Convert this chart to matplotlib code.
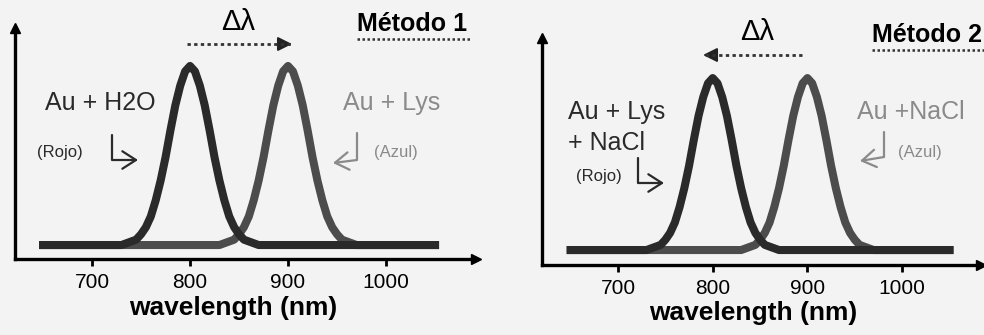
import matplotlib
matplotlib.use('Agg')
import matplotlib.pyplot as plt
import matplotlib.transforms as mtransforms
from matplotlib.lines import Line2D
from matplotlib.patches import FancyArrowPatch
from matplotlib.path import Path

# DATA
# Absorption spectra (normalised intensity vs wavelength)
wl_800 = [650, 730, 735, 740, 745, 750, 755, 760, 765, 770, 775, 780, 785, 790, 795,
          800, 805, 810, 815, 820, 825, 830, 835, 840, 845, 850, 855, 860, 865, 870, 1050]
abs_800 = [0, 0, 0.01, 0.02, 0.03, 0.06, 0.10, 0.16, 0.25, 0.36, 0.49, 0.64, 0.78, 0.89, 0.97,
           1.00, 0.97, 0.89, 0.78, 0.64, 0.49, 0.36, 0.25, 0.16, 0.10, 0.06, 0.03, 0.02, 0.01, 0, 0]
wl_900 = [650, 830, 835, 840, 845, 850, 855, 860, 865, 870, 875, 880, 885, 890, 895,
          900, 905, 910, 915, 920, 925, 930, 935, 940, 945, 950, 955, 960, 965, 970, 1050]
abs_900 = [0, 0, 0.01, 0.02, 0.03, 0.06, 0.10, 0.16, 0.25, 0.36, 0.49, 0.64, 0.78, 0.89, 0.97,
           1.00, 0.97, 0.89, 0.78, 0.64, 0.49, 0.36, 0.25, 0.16, 0.10, 0.06, 0.03, 0.02, 0.01, 0, 0]
xticks = [700, 800, 900, 1000]

plt.rcParams['font.family'] = ['Liberation Sans', 'DejaVu Sans']

W, H = 984, 335
fig = plt.figure(figsize=(W / 100, H / 100), dpi=100, facecolor='#f3f3f3')
# pixel coordinates measured from the top-left corner
px = mtransforms.Affine2D().scale(1 / W, -1 / H).translate(0, 1) + fig.transFigure

dark = '#2a2a2a'
mid = '#4c4c4c'
light = '#8a8a8a'


def panel(rect, xlim, ylim):
    ax = fig.add_axes(rect)
    ax.set_facecolor('none')
    ax.set_xlim(xlim)
    ax.set_ylim(ylim)
    ax.spines['top'].set_visible(False)
    ax.spines['right'].set_visible(False)
    ax.spines['left'].set_linewidth(2.4)
    ax.spines['bottom'].set_linewidth(2.4)
    ax.set_yticks([])
    ax.set_xticks(xticks)
    ax.tick_params(axis='x', direction='out', length=5, width=2, pad=5, labelsize=15)
    ax.plot(1, 0, '>k', ms=7, transform=ax.transAxes, clip_on=False)
    ax.plot(0, 1, '^k', ms=7, transform=ax.transAxes, clip_on=False)
    ax.plot(wl_900, abs_900, color=mid, lw=5.8, solid_joinstyle='round', zorder=2)
    ax.plot(wl_800, abs_800, color=dark, lw=5.8, solid_joinstyle='round', zorder=3)
    return ax


ax1 = panel([15 / W, 1 - 259 / H, 461 / W, 231 / H], (621.4, 1091.8), (-0.078, 1.212))
ax2 = panel([542 / W, 1 - 265 / H, 439 / W, 227 / H], (619.7, 1083.3), (-0.087, 1.233))


def txt(x, y, s, **kw):
    kw.setdefault('va', 'center')
    fig.text(x, y, s, transform=px, **kw)


def line(xs, ys, **kw):
    fig.add_artist(Line2D(xs, ys, transform=px, **kw))


def bent(pts, color):
    fig.add_artist(FancyArrowPatch(path=Path(pts), arrowstyle='->,head_length=0.7,head_width=0.45',
                                   mutation_scale=14, lw=1.6, color=color, transform=px))


def shift_arrow(x0, x1, y):
    line([x0, x1], [y, y], color='#333333', lw=2, ls=(0, (1.2, 1.2)))
    d = 1 if x1 > x0 else -1
    fig.add_artist(FancyArrowPatch((x1 - 10 * d, y), (x1, y), arrowstyle='-|>,head_length=0.6,head_width=0.3',
                                   mutation_scale=14, lw=1.5, color='#222222', transform=px,
                                   shrinkA=0, shrinkB=0))


# Panel 1
txt(238, 22, 'Δλ', ha='center', fontsize=21)
shift_arrow(187, 292, 44)
txt(357, 24, 'Método 1', ha='left', fontsize=18, fontweight='bold')
line([357, 472], [39, 39], color='#333333', lw=1.8, ls=(0, (1, 1)))
txt(100, 103, 'Au + H2O', ha='center', fontsize=18, color=dark)
txt(60, 153, '(Rojo)', ha='center', fontsize=12, color=dark)
bent([(112, 135), (112, 160), (138, 160)], dark)
txt(392, 103, 'Au + Lys', ha='center', fontsize=18, color=light)
txt(396, 153, '(Azul)', ha='center', fontsize=12, color=light)
bent([(357, 133), (357, 160), (333, 163)], light)
txt(233, 308, 'wavelength (nm)', ha='center', fontsize=19, fontweight='bold')

# Panel 2
txt(757, 32, 'Δλ', ha='center', fontsize=21)
shift_arrow(802, 703, 55)
txt(872, 35, 'Método 2', ha='left', fontsize=18, fontweight='bold')
line([872, 984], [50, 50], color='#333333', lw=1.8, ls=(0, (1, 1)))
txt(568, 112, 'Au + Lys', ha='left', fontsize=18, color=dark)
txt(568, 143, '+ NaCl', ha='left', fontsize=18, color=dark)
txt(576, 177, '(Rojo)', ha='left', fontsize=12, color=dark)
bent([(638, 158), (638, 183), (664, 183)], dark)
txt(857, 112, 'Au +NaCl', ha='left', fontsize=18, color=light)
txt(898, 153, '(Azul)', ha='left', fontsize=12, color=light)
bent([(884, 132), (884, 157), (860, 161)], light)
txt(753, 313, 'wavelength (nm)', ha='center', fontsize=19, fontweight='bold')

plt.savefig('out.png', dpi=100, facecolor=fig.get_facecolor())
